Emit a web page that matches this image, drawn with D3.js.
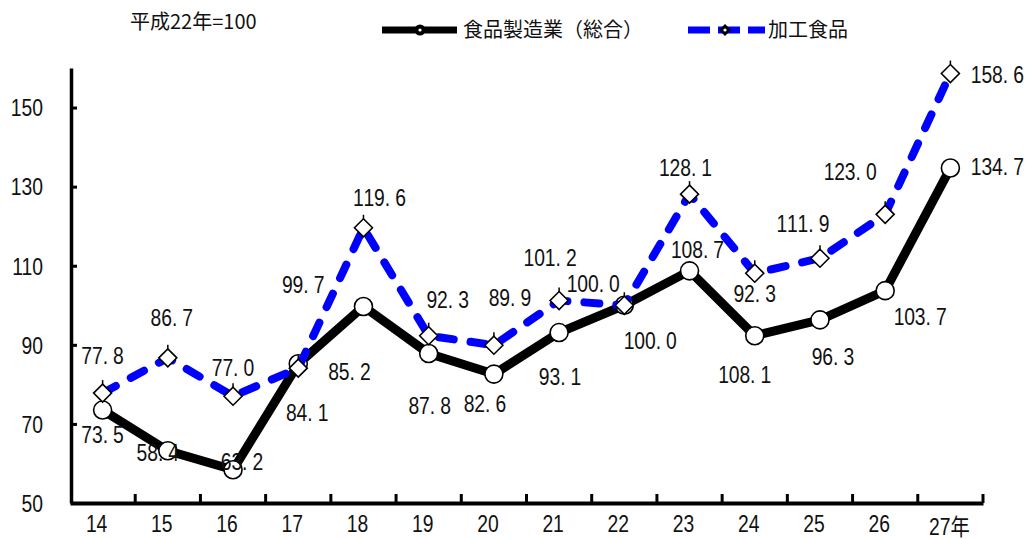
<!DOCTYPE html>
<html>
<head>
<meta charset="utf-8">
<script src="https://cdn.jsdelivr.net/npm/d3@7"></script>
<style>
  html, body { margin: 0; padding: 0; background: #fff; }
  svg { display: block; }
  .num { font-family: "Liberation Sans", Arial, sans-serif; font-size: 23px; fill: #111; }
  .jp { font-family: "Noto Sans CJK JP", sans-serif; fill: #111; }
</style>
</head>
<body>
<svg id="chart" width="1030" height="539"></svg>
<script>
// ---- data ----
const categories = ["14","15","16","17","18","19","20","21","22","23","24","25","26","27年"];
const sogoValues  = [73.5, 63.2, 58.4, 85.2, 99.7, 87.8, 82.6, 93.1, 100.0, 108.7, 92.3, 96.3, 103.7, 134.7];
const kakouValues = [77.8, 86.7, 77.0, 84.1, 119.6, 92.3, 89.9, 101.2, 100.0, 128.1, 108.1, 111.9, 123.0, 158.6];
// data label texts as printed in the reference
const sogoLabels  = ["73.5","58.4","63.2","84.1","85.2","87.8","82.6","93.1","100.0","108.7","108.1","96.3","103.7","134.7"];
const kakouLabels = ["77.8","86.7","77.0","99.7","119.6","92.3","89.9","101.2","100.0","128.1","92.3","111.9","123.0","158.6"];
const yTicks = [50, 70, 90, 110, 130, 150];
const seriesNames = ["食品製造業（総合）", "加工食品"];
const unitNote = "平成22年=100";

// ---- layout (label offsets from their points, px) ----
const sogoLabelOffsets  = [[0,25],[-10,2],[9,-8],[9,49],[-14,65],[1,52],[-9,30],[1,44],[26,35],[8,-21],[-10,39],[13,37],[35,26],[47,-1]];
const kakouLabelOffsets = [[0,-37],[4,-40],[0,-29],[5,-83],[16,-30],[19,-36],[16,-48],[-9,-43],[-31,-22],[-4,-26],[0,20],[-17,-35],[-35,-43],[47,1]];
const SX = 0.84; // horizontal squeeze for narrow digits

const svg = d3.select("#chart");
const x = d3.scaleBand().domain(categories).range([70, 983]).paddingInner(0).paddingOuter(0);
const y = d3.scaleLinear().domain([50, 160]).range([503, 68]);
const cx = d => x(d) + x.bandwidth() / 2;

// y axis
const yAxis = svg.append("g").attr("transform", "translate(71,0)")
  .call(d3.axisLeft(y).tickValues(yTicks).tickSizeInner(-6).tickSizeOuter(0).tickPadding(28).tickFormat(d3.format("d")));
yAxis.select(".domain").attr("stroke", "#000").attr("stroke-width", 3.5);
yAxis.selectAll(".tick line").attr("stroke", "#000").attr("stroke-width", 3);
yAxis.selectAll(".tick text").attr("class", "num").attr("font-size", null).attr("font-family", null)
  .attr("dy", "0.36em").attr("x", -28 / SX).attr("transform", `scale(${SX},1)`);

// x axis (labels)
const xAxis = svg.append("g").attr("transform", "translate(0,503)")
  .call(d3.axisBottom(x).tickSize(0).tickPadding(14));
xAxis.select(".domain").attr("stroke", "#000").attr("stroke-width", 4);
xAxis.selectAll(".tick text").attr("class", "num")
  .attr("font-size", null).attr("font-family", null)
  .attr("transform", `scale(${SX},1)`)
  .attr("dx", d => (d.indexOf("年") >= 0 ? -1 : -6) / SX)
  .attr("dy", d => d.indexOf("年") >= 0 ? "0.78em" : "0.66em");
xAxis.selectAll(".tick text").filter(d => d.indexOf("年") >= 0)
  .style("font-family", '"Liberation Sans","Noto Sans CJK JP",sans-serif');
// x boundary ticks (pointing up)
svg.append("g").selectAll("line").data(categories).join("line")
  .attr("x1", d => x(d) + x.bandwidth()).attr("x2", d => x(d) + x.bandwidth())
  .attr("y1", 503).attr("y2", 494).attr("stroke", "#000").attr("stroke-width", 3);

// lines
const line = vals => d3.line().x((d, i) => cx(categories[i])).y(d => y(d))(vals);
svg.append("path").attr("d", line(sogoValues)).attr("fill", "none")
  .attr("stroke", "#000").attr("stroke-width", 9).attr("stroke-linejoin", "round");
// circles
svg.append("g").selectAll("circle").data(sogoValues).join("circle")
  .attr("cx", (d, i) => cx(categories[i])).attr("cy", d => y(d)).attr("r", 9)
  .attr("fill", "#fff").attr("stroke", "#000").attr("stroke-width", 1.6);

svg.append("path").attr("d", line(kakouValues)).attr("fill", "none")
  .attr("stroke", "#0000ff").attr("stroke-width", 8).attr("stroke-linecap", "round")
  .attr("stroke-dasharray", "15,17");
const diamond = "M0,-9L9,0L0,9L-9,0Z";
const dg = svg.append("g").selectAll("g").data(kakouValues).join("g")
  .attr("transform", (d, i) => `translate(${cx(categories[i])},${y(d)})`);
dg.append("line").attr("x1", 0).attr("x2", 0).attr("y1", -9).attr("y2", -13).attr("stroke", "#000").attr("stroke-width", 1.5);
dg.append("path").attr("d", diamond).attr("fill", "#fff").attr("stroke", "#000").attr("stroke-width", 1.6);

// data labels (fixed-pitch narrow digits)
function drawLabel(g, text, px, py) {
  const adv = 10.6, chars = Array.from(text), x0 = -chars.length * adv / 2;
  g.append("text").attr("class", "num").attr("text-anchor", "middle").attr("dy", "0.36em")
    .attr("transform", `translate(${px},${py}) scale(${SX},1)`)
    .attr("x", chars.map((c, i) => ((x0 + adv * (i + 0.5) + (c === "." ? -2.5 : 0)) / SX).toFixed(1)).join(" "))
    .attr("y", 0).text(text);
}
const lg = svg.append("g");
sogoValues.forEach((v, i) => drawLabel(lg, sogoLabels[i], cx(categories[i]) + sogoLabelOffsets[i][0], y(v) + sogoLabelOffsets[i][1]));
kakouValues.forEach((v, i) => drawLabel(lg, kakouLabels[i], cx(categories[i]) + kakouLabelOffsets[i][0], y(v) + kakouLabelOffsets[i][1]));

// unit note
svg.append("text").attr("class", "jp").attr("x", 130).attr("y", 22).attr("dy", "0.36em")
  .attr("font-size", 20).text(unitNote);

// legend
const leg = svg.append("g");
leg.append("line").attr("x1", 382).attr("x2", 457).attr("y1", 30).attr("y2", 30).attr("stroke", "#000").attr("stroke-width", 7);
leg.append("circle").attr("cx", 420).attr("cy", 30).attr("r", 5.5).attr("fill", "#000");
leg.append("circle").attr("cx", 420).attr("cy", 30).attr("r", 1.6).attr("fill", "#fff");
leg.append("text").attr("class", "jp").attr("x", 463).attr("y", 30).attr("dy", "0.36em").attr("font-size", 20).text(seriesNames[0]);
leg.append("line").attr("x1", 688).attr("x2", 765).attr("y1", 30).attr("y2", 30).attr("stroke", "#0000ff").attr("stroke-width", 7).attr("stroke-dasharray", "22,8");
leg.append("path").attr("d", "M0,-6L6,0L0,6L-6,0Z").attr("transform", "translate(725,30)").attr("fill", "#000");
leg.append("circle").attr("cx", 725).attr("cy", 30).attr("r", 1.6).attr("fill", "#fff");
leg.append("text").attr("class", "jp").attr("x", 768).attr("y", 30).attr("dy", "0.36em").attr("font-size", 20).text(seriesNames[1]);
</script>
</body>
</html>
